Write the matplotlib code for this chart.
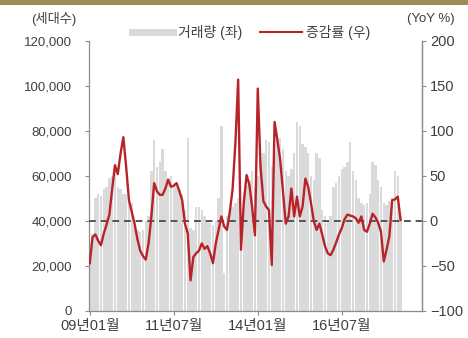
import numpy as np
import matplotlib
matplotlib.use('Agg')
import matplotlib.pyplot as plt
from matplotlib.lines import Line2D
from matplotlib.patches import Rectangle
from matplotlib.ticker import FuncFormatter

# monthly data, 2009-01 .. 2018-04
volume = [30000, 34000, 50000, 52000, 51000, 54000, 55000, 59000, 60000, 62000,
          55000, 54000, 52000, 52000, 50000, 48000, 38000, 36000, 35000, 36000,
          40000, 42000, 62000, 76000, 64000, 66000, 72000, 62000, 58000, 60000,
          57000, 55000, 54000, 52000, 45000, 77000, 37000, 36000, 46000, 46000,
          45000, 42000, 40000, 39000, 38000, 40000, 50000, 82000, 17000, 42000,
          45000, 46000, 48000, 50000, 44000, 52000, 56000, 58000, 62000, 55000,
          60000, 66000, 70000, 76000, 75000, 64000, 70000, 76000, 77000, 72000,
          62000, 60000, 63000, 70000, 84000, 82000, 74000, 73000, 70000, 60000,
          58000, 70000, 68000, 45000, 42000, 40000, 42000, 55000, 57000, 60000,
          63000, 64000, 66000, 75000, 62000, 58000, 50000, 48000, 47000, 48000,
          52000, 66000, 65000, 58000, 55000, 48000, 47000, 49000, 50000, 62000,
          60000, 42000]
yoy = [-47, -18, -15, -22, -27, -14, -4, 7, 35, 62,
       52, 75, 93, 60, 23, 10, -3, -20, -33, -39,
       -43, -25, 5, 42, 33, 29, 29, 36, 46, 38,
       39, 42, 33, 23, -3, -14, -66, -40, -36, -33,
       -25, -31, -28, -36, -47, -25, -10, 5, -6, -10,
       10, 35, 86, 157, -32, 20, 51, 40, 15, -16,
       147, 60, 22, 16, 12, -49, 110, 90, 68, 33,
       -3, 5, 36, 5, 27, 5, 16, 47, 38, 20,
       0, -10, -3, -15, -28, -36, -38, -32, -24, -15,
       -8, 2, 7, 6, 5, 3, -2, 5, -10, -12,
       -3, 8, 4, -2, -12, -45, -32, -17, 23, 24,
       27, 1]
tick_pos = [0, 30, 60, 90]
tick_labels = ['09년01월', '11년07월', '14년01월', '16년07월']
legend_labels = ['거래량 (좌)', '증감률 (우)']

plt.rcParams['font.family'] = ['Liberation Sans', 'Noto Sans CJK KR']
txt = '#404040'
grey = '#8c8c8c'
red = '#b8232a'

fig = plt.figure(figsize=(4.68, 3.38), dpi=100)
fig.add_artist(Rectangle((0, 1 - 5 / 338), 1, 5 / 338, transform=fig.transFigure,
                         color='#a08d55', lw=0))

ax = fig.add_axes([0.190, 0.080, 0.712, 0.799])
ax2 = ax.twinx()

x = np.arange(len(volume))
ax.bar(x, volume, width=0.88, color='#dadada', zorder=1)
ax.set_xlim(-0.3, 118.7)
ax.set_ylim(0, 120000)
ax.set_yticks(range(0, 120001, 20000))
ax.yaxis.set_major_formatter(FuncFormatter(lambda v, p: f'{int(v):,}'))
ax.set_xticks(tick_pos)
ax.set_xticklabels(tick_labels)

ax2.axhline(0, color='#555555', ls=(0, (3.5, 2.5)), lw=1.4, zorder=1)
ax2.plot(x, yoy, color=red, lw=1.7, zorder=2)
ax2.set_ylim(-100, 200)
ax2.set_yticks(range(-100, 201, 50))

for a in (ax, ax2):
    a.spines['top'].set_visible(False)
    for s in a.spines.values():
        s.set_color(grey)
        s.set_linewidth(0.9)
ax2.spines['left'].set_visible(False)
ax2.spines['bottom'].set_visible(False)

ax.tick_params(axis='y', direction='out', length=3, color=grey, labelsize=9.5,
               labelcolor=txt, pad=9)
ax.tick_params(axis='x', direction='out', length=3, color=grey, labelsize=10.5,
               labelcolor=txt, pad=3)
ax2.tick_params(axis='y', direction='out', length=3, color=grey, labelsize=10.5,
                labelcolor=txt, pad=2.5)

fig.text(54 / 468, 1 - 19 / 338, '(세대수)', ha='center', va='center',
         fontsize=9.5, color=txt)
fig.text(431 / 468, 1 - 19 / 338, '(YoY %)', ha='center', va='center',
         fontsize=9.5, color=txt)

handles = [Line2D([], [], color='#d9d9d9', lw=5),
           Line2D([], [], color=red, lw=1.5)]
fig.legend(handles, legend_labels, loc='center', bbox_to_anchor=(0.536, 0.905),
           ncol=2, frameon=False, handlelength=3.0, handletextpad=0.3,
           columnspacing=1.3, fontsize=10, labelcolor=txt)

fig.savefig('out.png', dpi=100)
